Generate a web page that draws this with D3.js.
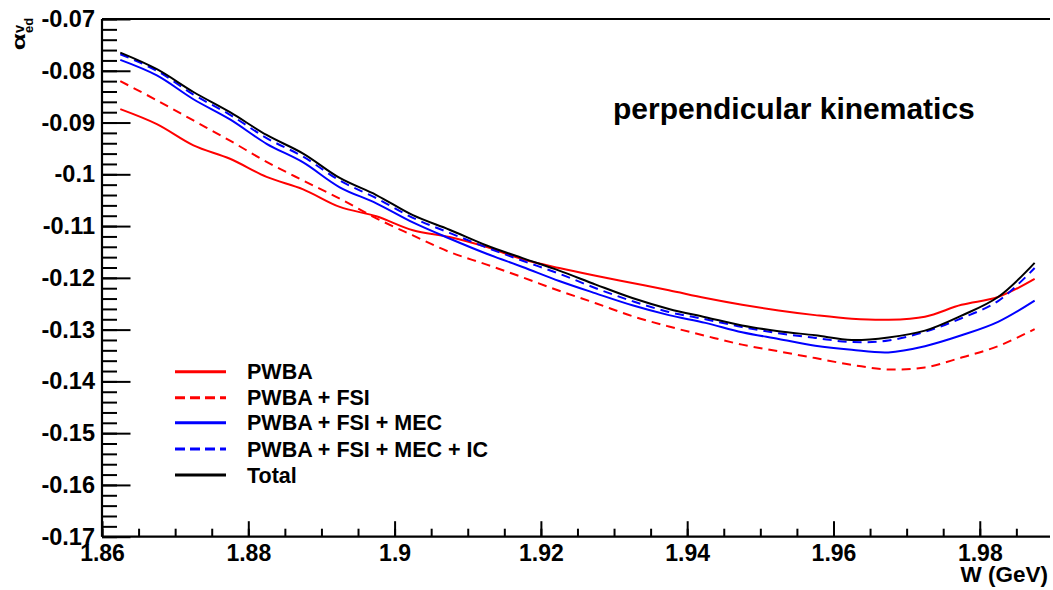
<!DOCTYPE html>
<html><head><meta charset="utf-8">
<script src="https://cdn.jsdelivr.net/npm/d3@7"></script>
<style>
html,body{margin:0;padding:0;background:#fff;}
svg{display:block;}
text{font-family:"Liberation Sans",Arial,Helvetica,sans-serif;font-weight:bold;}
</style></head>
<body>
<svg id="chart" width="1053" height="590"></svg>
<script>
// ---- data ----
const W = [1.8625,1.8675,1.8725,1.8775,1.8825,1.8875,1.8925,1.8975,1.9025,1.9075,1.9125,1.9175,1.9225,1.9275,1.9325,1.9375,1.9425,1.9475,1.9525,1.9575,1.9625,1.9675,1.9725,1.9775,1.9825,1.9875];
const pwba = [-0.0874,-0.0903,-0.0944,-0.0970,-0.1005,-0.1029,-0.1063,-0.1081,-0.1108,-0.1121,-0.1140,-0.1164,-0.1181,-0.1196,-0.1210,-0.1224,-0.1239,-0.1252,-0.1263,-0.1272,-0.1279,-0.1281,-0.1275,-0.1252,-0.1237,-0.1202];
const pwbaFsi = [-0.0820,-0.0857,-0.0896,-0.0935,-0.0976,-0.1012,-0.1047,-0.1085,-0.1118,-0.1150,-0.1174,-0.1199,-0.1225,-0.1249,-0.1274,-0.1294,-0.1312,-0.1329,-0.1342,-0.1355,-0.1368,-0.1377,-0.1373,-0.1354,-0.1332,-0.1299];
const pwbaFsiMec = [-0.0779,-0.0809,-0.0855,-0.0894,-0.0941,-0.0977,-0.1025,-0.1056,-0.1093,-0.1124,-0.1153,-0.1179,-0.1206,-0.1230,-0.1253,-0.1272,-0.1287,-0.1305,-0.1318,-0.1331,-0.1339,-0.1344,-0.1332,-0.1311,-0.1285,-0.1244];
const pwbaFsiMecIc = [-0.0768,-0.0800,-0.0846,-0.0885,-0.0930,-0.0966,-0.1012,-0.1046,-0.1084,-0.1113,-0.1141,-0.1167,-0.1192,-0.1220,-0.1245,-0.1266,-0.1280,-0.1295,-0.1307,-0.1316,-0.1324,-0.1321,-0.1304,-0.1278,-0.1245,-0.1181];
const total = [-0.0765,-0.0797,-0.0841,-0.0880,-0.0924,-0.0960,-0.1007,-0.1040,-0.1079,-0.1107,-0.1137,-0.1162,-0.1186,-0.1213,-0.1239,-0.1260,-0.1276,-0.1292,-0.1303,-0.1311,-0.1320,-0.1315,-0.1302,-0.1273,-0.1237,-0.1171];

const seriesNames = ["PWBA","PWBA + FSI","PWBA + FSI + MEC","PWBA + FSI + MEC + IC","Total"];
const xTickValues = [1.86,1.88,1.90,1.92,1.94,1.96,1.98];
const xTickLabels = ["1.86","1.88","1.9","1.92","1.94","1.96","1.98"];
const yTickValues = [-0.17,-0.16,-0.15,-0.14,-0.13,-0.12,-0.11,-0.10,-0.09,-0.08,-0.07];
const yTickLabels = ["-0.17","-0.16","-0.15","-0.14","-0.13","-0.12","-0.11","-0.1","-0.09","-0.08","-0.07"];
const xTitle = "W (GeV)";
const plotTitle = "perpendicular kinematics";

// ---- layout ----
const svg = d3.select("#chart");
const L = 102, R = 1050, T = 19, B = 536.7;
const x = d3.scaleLinear().domain([1.86, 1.9896]).range([L, R]);
const y = d3.scaleLinear().domain([-0.17, -0.07]).range([B, T]);

const styles = [
  {color:"#ff0000", dash:null},
  {color:"#ff0000", dash:"9,6"},
  {color:"#0000ff", dash:null},
  {color:"#0000ff", dash:"9,6"},
  {color:"#000000", dash:null}
];
const allSeries = [pwba, pwbaFsi, pwbaFsiMec, pwbaFsiMecIc, total];

// minor / major ticks
const minorX = d3.range(1.86, 1.9876, 0.005);
const minorY = d3.range(-0.17, -0.0699, 0.002);

const gx = svg.append("g").attr("transform", `translate(0,${B})`);
gx.call(d3.axisBottom(x).tickValues(minorX).tickSize(-8).tickFormat(""));
gx.select(".domain").remove();
const gx2 = svg.append("g").attr("transform", `translate(0,${B})`);
gx2.call(d3.axisBottom(x).tickValues(xTickValues).tickSize(-15.5).tickPadding(8)
  .tickFormat((d,i) => xTickLabels[i]));
gx2.select(".domain").remove();
gx2.selectAll("text").attr("font-size", 23).attr("fill","#000")
  .attr("font-family",'"Liberation Sans",Arial,sans-serif').attr("font-weight","bold");

const gy = svg.append("g").attr("transform", `translate(${L},0)`);
gy.call(d3.axisLeft(y).tickValues(minorY).tickSize(-15).tickFormat(""));
gy.select(".domain").remove();
const gy2 = svg.append("g").attr("transform", `translate(${L},0)`);
gy2.call(d3.axisLeft(y).tickValues(yTickValues).tickSize(-28.5).tickPadding(7)
  .tickFormat((d,i) => yTickLabels[i]));
gy2.select(".domain").remove();
gy2.selectAll("text").attr("font-size", 23.5).attr("fill","#000")
  .attr("font-family",'"Liberation Sans",Arial,sans-serif').attr("font-weight","bold");

svg.selectAll(".tick line").attr("stroke","#000").attr("stroke-width",2);

// frame lines: left, bottom, top
svg.append("path").attr("d", `M${L},${T}H${R}M${L},${T}V${B}M${L},${B}H${R}`)
  .attr("stroke","#000").attr("stroke-width",2.2).attr("fill","none");

// curves
const line = d3.line().x((d,i)=>x(W[i])).y(d=>y(d)).curve(d3.curveCatmullRom);
allSeries.forEach((s,k) => {
  svg.append("path").datum(s).attr("d", line)
    .attr("fill","none").attr("stroke", styles[k].color).attr("stroke-width",2)
    .attr("stroke-dasharray", styles[k].dash);
});

// legend
const legY = [371.7, 397.7, 422.7, 449, 475];
seriesNames.forEach((n,k) => {
  svg.append("line").attr("x1",175).attr("x2",226).attr("y1",legY[k]).attr("y2",legY[k])
    .attr("stroke", styles[k].color).attr("stroke-width",3)
    .attr("stroke-dasharray", styles[k].dash ? "10,5" : null);
  svg.append("text").attr("x",247).attr("y",legY[k]+7.5).attr("font-size",21.5).text(n);
});

// title
svg.append("text").attr("x",613).attr("y",119).attr("font-size",30).text(plotTitle);

// x title
svg.append("text").attr("x",1048).attr("y",582).attr("text-anchor","end").attr("font-size",22.5).text(xTitle);

// y title
const yt = svg.append("g").attr("transform","translate(25,51) rotate(-90)");
yt.append("text").attr("transform","scale(1.45,1)").attr("x",0.5).attr("y",0).attr("font-size",19)
  .attr("font-weight","normal").attr("font-family",'"DejaVu Sans",sans-serif').text("α");
yt.append("text").attr("x",18).attr("y",-1).attr("font-size",14.5).text("v");
yt.append("text").attr("x",18).attr("y",8).attr("font-size",13).text("ed");
</script>
</body></html>
